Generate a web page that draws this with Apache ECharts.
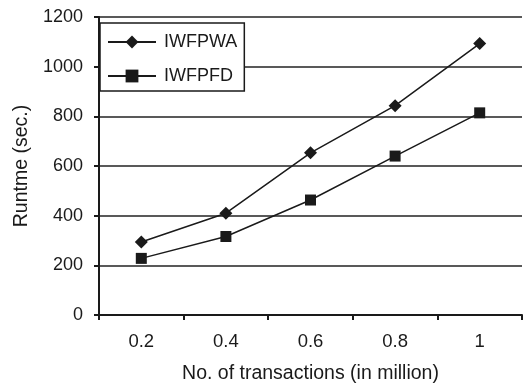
<!DOCTYPE html>
<html><head><meta charset="utf-8">
<script src="https://cdn.jsdelivr.net/npm/echarts@6/dist/echarts.min.js"></script>
<style>html,body{margin:0;padding:0;background:#fff}#c{width:523px;height:389px}</style>
</head><body><div id="c"></div>
<script>
var categories = ['0.2', '0.4', '0.6', '0.8', '1'];
var iwfpwa = [294, 410, 653, 843, 1093];
var iwfpfd = [228, 316, 463, 640, 814];
var yTicks = [0, 200, 400, 600, 800, 1000, 1200];

var chart = echarts.init(document.getElementById('c'), null, {renderer: 'canvas'});
var font = 'Liberation Sans, Arial, sans-serif';
var ink = '#1a1a1a';
chart.setOption({
  animation: false,
  textStyle: {fontFamily: font},
  grid: {left: 99, right: 1, top: 17, bottom: 73, containLabel: false},
  legend: {
    orient: 'vertical', left: 100, top: 23,
    backgroundColor: '#fff',
    borderColor: ink, borderWidth: 1.5, padding: [9, 7, 5, 7],
    itemWidth: 48, itemHeight: 16, itemGap: 14,
    textStyle: {fontSize: 18, color: ink, fontFamily: font, lineHeight: 20, padding: [0, 0, 0, 3]},
    data: ['IWFPWA', 'IWFPFD']
  },
  xAxis: {
    type: 'category', data: categories, boundaryGap: true,
    name: 'No. of transactions (in million)', nameLocation: 'middle', nameGap: 49,
    nameTextStyle: {fontSize: 19.5, color: ink},
    axisLine: {lineStyle: {color: ink, width: 2}},
    axisTick: {show: true, length: 5, lineStyle: {color: ink, width: 2}},
    axisLabel: {fontSize: 18.5, color: ink, margin: 17},
    splitLine: {show: false}
  },
  yAxis: {
    type: 'value', min: yTicks[0], max: yTicks[yTicks.length - 1], interval: 200,
    name: 'Runtme (sec.)', nameLocation: 'middle', nameGap: 62, nameRotate: 90,
    nameTextStyle: {fontSize: 19.5, color: ink},
    axisLine: {show: true, lineStyle: {color: ink, width: 2}},
    axisTick: {show: true, inside: false, length: 5, lineStyle: {color: ink, width: 2}},
    axisLabel: {fontSize: 18, color: ink, margin: 16, formatter: function (v) { return String(v); }},
    splitLine: {show: true, lineStyle: {color: '#222', width: 1.5}}
  },
  series: [
    {name: 'IWFPWA', type: 'line', data: iwfpwa, symbol: 'diamond', symbolSize: 13,
     lineStyle: {color: ink, width: 1.5}, itemStyle: {color: ink}},
    {name: 'IWFPFD', type: 'line', data: iwfpfd, symbol: 'rect', symbolSize: 11,
     lineStyle: {color: ink, width: 1.5}, itemStyle: {color: ink}}
  ]
});
</script></body></html>
